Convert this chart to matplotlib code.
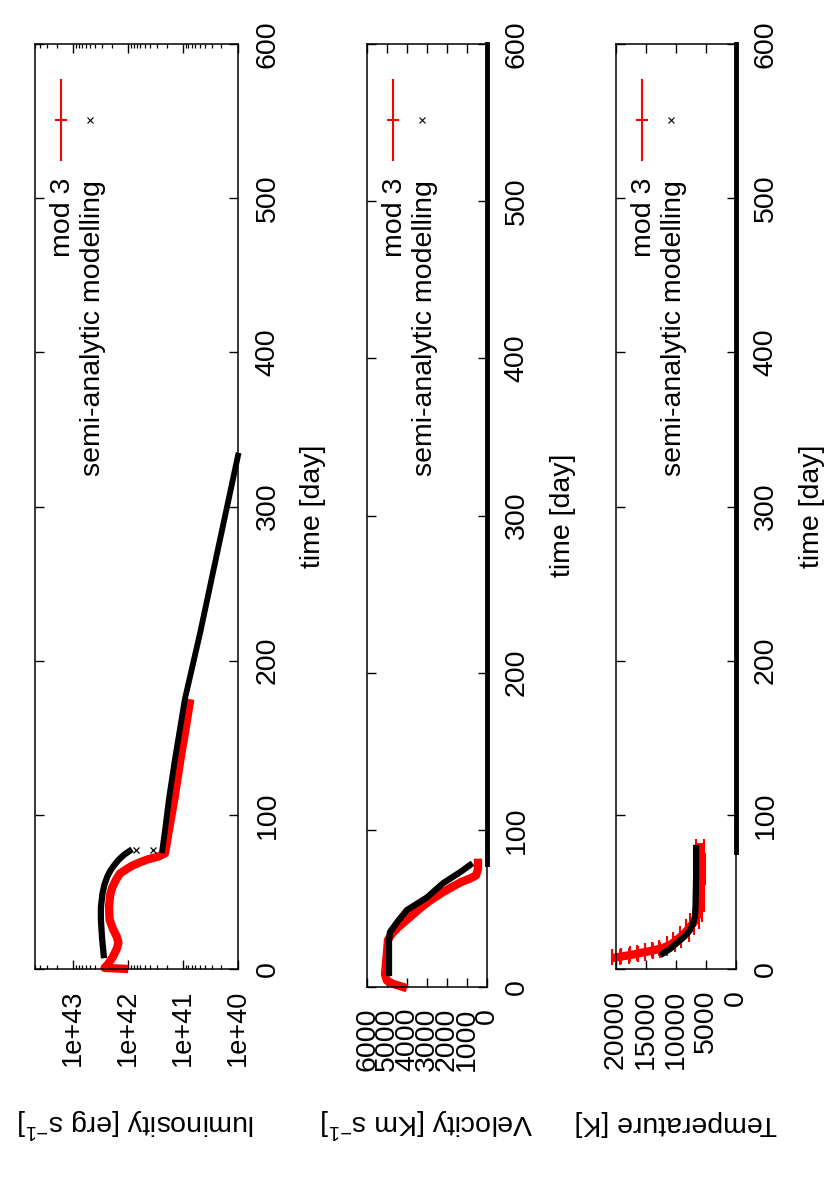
import matplotlib
matplotlib.use("Agg")
import matplotlib.pyplot as plt
from matplotlib.ticker import FixedLocator, LogLocator, NullFormatter, FuncFormatter
from matplotlib.lines import Line2D

plt.rcParams['font.family'] = ['Liberation Sans', 'DejaVu Sans']
plt.rcParams['mathtext.fontset'] = 'custom'
plt.rcParams['mathtext.rm'] = 'Liberation Sans'
plt.rcParams['mathtext.it'] = 'Liberation Sans:italic'
plt.rcParams['font.size'] = 20.5

# ---------------- data ----------------
# Luminosity panel (time in days, luminosity in erg/s)
lum_mod3_t = [0, 0.7, 3, 8, 13, 17, 21, 26, 32, 40, 48, 53, 58, 62, 65, 67, 69, 71, 73, 75,
              90, 110, 136, 155, 175]
lum_mod3_L = [1.0e42, 2.7e42, 2.35e42, 1.9e42, 1.62e42, 1.51e42, 1.62e42, 1.9e42, 2.19e42,
              2.24e42, 2.14e42, 1.95e42, 1.66e42, 1.41e42, 1.05e42, 8.5e41, 6.3e41, 4.5e41,
              2.8e41, 2.14e41, 1.82e41, 1.45e41, 1.12e41, 9.1e40, 7.4e40]

lum_semi_early_t = [9, 20, 32, 40, 49, 55, 60, 64, 68, 71, 74, 76.5]
lum_semi_early_L = [2.8e42, 3.0e42, 3.15e42, 3.15e42, 2.95e42, 2.7e42, 2.4e42, 2.1e42,
                    1.74e42, 1.48e42, 1.2e42, 9.5e41]
lum_semi_jump_t = [77, 77]
lum_semi_jump_L = [7.1e41, 3.6e41]
lum_semi_late_t = [77, 90, 110, 136, 175, 218, 260, 300, 333]
lum_semi_late_L = [2.4e41, 2.14e41, 1.82e41, 1.41e41, 9.3e40, 4.9e40, 2.75e40, 1.58e40, 1.0e40]

# Velocity panel (km/s)
vel_mod3_t = [0, 2, 4, 8, 15, 22, 30, 34, 38, 44, 50, 55, 60, 64, 67, 69, 71, 75, 79]
vel_mod3_v = [4200, 4700, 5000, 5100, 5050, 5000, 4950, 4750, 4450, 3900, 3350, 2850,
              2250, 1700, 1250, 850, 550, 450, 450]
vel_semi_t = [9, 20, 30, 35, 42, 49, 57, 66, 73, 77.6]
vel_semi_v = [4900, 4900, 4900, 4850, 4450, 4000, 3000, 2200, 1350, 850]
vel_semi_tail_t = [78, 600]
vel_semi_tail_v = [0, 0]

# Temperature panel (K)
temp_mod3_t = [7.5, 8.5, 9.5, 10.5, 11.5, 12.5, 13.6, 16, 19, 23, 27, 31, 36, 42, 49, 60, 70, 79]
temp_mod3_T = [20000, 18500, 17000, 15800, 14500, 13300, 12200, 10800, 9800, 8600, 7700,
               6900, 6300, 6100, 6000, 5900, 5900, 6000]
temp_mod3_err = [700, 700, 700, 700, 700, 700, 700, 700, 700, 700, 700, 700, 700, 700, 700,
                 700, 700, 700]
temp_semi_t = [10, 13, 17, 21, 25, 29, 34, 40, 50, 60, 70, 78.5]
temp_semi_T = [12200, 11000, 9800, 8600, 7700, 7200, 6850, 6750, 6700, 6650, 6650, 6650]
temp_semi_tail_t = [76, 600]
temp_semi_tail_T = [0, 0]

time_ticks = [0, 100, 200, 300, 400, 500, 600]
lum_ticks = [1e40, 1e41, 1e42, 1e43]
vel_ticks = [0, 1000, 2000, 3000, 4000, 5000, 6000]
temp_ticks = [0, 5000, 10000, 15000, 20000]

legend_labels = ['mod 3', 'semi-analytic modelling']
value_labels = [r'luminosity [erg s$^{-1}$]', r'Velocity [Km s$^{-1}$]', 'Temperature [K]']
time_label = 'time [day]'

# ---------------- figure ----------------
W, H = 830, 1186
fig = plt.figure(figsize=(W / 100, H / 100), dpi=100)


def fx(px):
    return px / W


def fy(py):
    return 1 - py / H


def make_axes(left, right, top, bottom):
    return fig.add_axes([fx(left), fy(bottom), fx(right) - fx(left), fy(top) - fy(bottom)])


RED = '#ff0000'

panels = [
    dict(box=(35, 238, 44, 969), tlabel=(313, 506)),
    dict(box=(367, 487, 44, 987), tlabel=(563, 515)),
    dict(box=(616, 736, 44, 969), tlabel=(812, 506)),
]

axes = []
for i, p in enumerate(panels):
    l, r, t, b = p['box']
    ax = make_axes(l, r, t, b)
    axes.append(ax)
    ax.set_ylim(0, 600)
    ax.yaxis.set_major_locator(FixedLocator(time_ticks))
    for s in ax.spines.values():
        s.set_linewidth(1.1)
    ax.tick_params(axis='both', which='major', direction='in', length=6.5, width=1.0,
                   top=True, bottom=True, left=True, right=True)
    ax.tick_params(axis='x', labelrotation=90, pad=15)
    ax.tick_params(axis='y', labelleft=False, labelright=True, labelrotation=90, pad=12)
    ax.set_ylabel(time_label, rotation=90)
    ax.yaxis.set_label_position('right')
    ax.yaxis.set_label_coords(fx(p['tlabel'][0]), fy(p['tlabel'][1]), transform=fig.transFigure)
    ax.yaxis.label.set_va('center')
    ax.yaxis.label.set_ha('center')
    ax.set_xlabel(value_labels[i], rotation=180)
    ax.xaxis.set_label_coords(fx((l + r) / 2), fy(1123), transform=fig.transFigure)
    ax.xaxis.label.set_va('center')
    ax.xaxis.label.set_ha('center')

ax1, ax2, ax3 = axes

# Luminosity
ax1.set_xscale('log')
ax1.set_xlim(5e43, 1e40)
ax1.xaxis.set_major_locator(FixedLocator(lum_ticks))
ax1.xaxis.set_minor_locator(LogLocator(base=10, subs=range(2, 10), numticks=20))
ax1.xaxis.set_minor_formatter(NullFormatter())
ax1.xaxis.set_major_formatter(FuncFormatter(lambda v, pos: f"{v:.0e}"))
ax1.tick_params(axis='x', which='minor', direction='in', length=3, width=0.9,
                top=True, bottom=True)
ax1.tick_params(axis='x', which='major', labelsize=19.5)
ax1.plot(lum_mod3_L, lum_mod3_t, color=RED, lw=6, solid_capstyle='butt', clip_on=False)
ax1.plot(lum_semi_early_L, lum_semi_early_t, color='black', lw=4.5, clip_on=False)
ax1.plot(lum_semi_jump_L, lum_semi_jump_t, color='black', ls='none', marker='x', ms=5, mew=0.9)
ax1.plot(lum_semi_late_L, lum_semi_late_t, color='black', lw=4.2, clip_on=False)

# Velocity
ax2.set_xlim(6000, 0)
ax2.xaxis.set_major_locator(FixedLocator(vel_ticks))
ax2.plot(vel_mod3_v, vel_mod3_t, color=RED, lw=6, clip_on=False)
ax2.plot(vel_semi_v, vel_semi_t, color='black', lw=4.5, clip_on=False)
ax2.plot(vel_semi_tail_v, vel_semi_tail_t, color='black', lw=3.5, clip_on=False)

# Temperature
ax3.set_xlim(20000, 0)
ax3.xaxis.set_major_locator(FixedLocator(temp_ticks))
ax3.errorbar(temp_mod3_T, temp_mod3_t, xerr=temp_mod3_err, fmt='none', ecolor=RED,
             elinewidth=1.5, capsize=6, capthick=1.5, clip_on=False)
ax3.plot(temp_mod3_T, temp_mod3_t, color=RED, lw=6, clip_on=False)
ax3.plot(temp_semi_T, temp_semi_t, color='black', lw=4.5, clip_on=False)
ax3.plot(temp_semi_tail_T, temp_semi_tail_t, color='black', lw=3.5, clip_on=False)

for ax in axes:
    for lbl in ax.get_yticklabels():
        lbl.set_va('center')

# Manual legends (rotated key)
for p in panels:
    l = p['box'][0]
    xr = l + 26
    xb = l + 55
    fig.add_artist(Line2D([fx(xr), fx(xr)], [fy(80), fy(160)], color=RED, lw=1.5))
    fig.add_artist(Line2D([fx(xr - 5), fx(xr + 5)], [fy(120), fy(120)], color=RED, lw=1.5))
    fig.add_artist(Line2D([fx(xb)], [fy(120)], color='black', ls='none', marker='x',
                          ms=4, mew=0.8))
    fig.text(fx(xr + 2), fy(178), legend_labels[0], rotation=90, rotation_mode='anchor',
             ha='right', va='center')
    fig.text(fx(xb + 3), fy(180), legend_labels[1], rotation=90, rotation_mode='anchor',
             ha='right', va='center')

fig.savefig('out.png', dpi=100)
